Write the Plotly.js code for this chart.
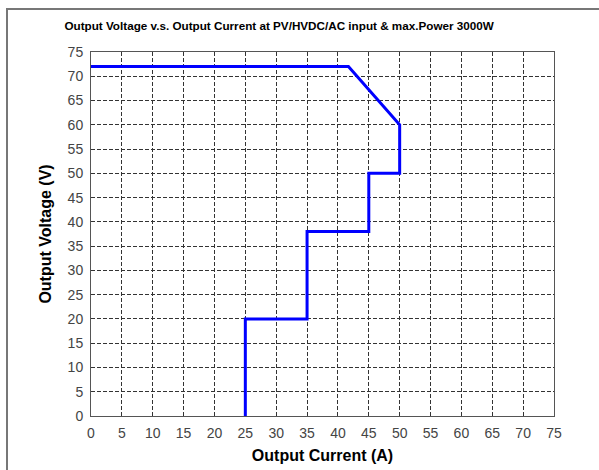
<!DOCTYPE html>
<html><head><meta charset="utf-8">
<script src="https://cdn.plot.ly/plotly-3.0.1.min.js"></script>
<style>
html,body{margin:0;padding:0;background:#fff;}
#wrap{position:relative;width:599px;height:470px;overflow:hidden;}
#chart{position:absolute;left:0;top:0;width:599px;height:470px;}
#frame{position:absolute;left:6px;top:8px;width:600px;height:470px;border-left:2px solid #777;border-top:2px solid #777;pointer-events:none;}
</style></head>
<body><div id="wrap"><div id="chart"></div><div id="frame"></div></div>
<script>
const currentA = [0, 41.7, 50, 50, 45, 45, 35, 35, 25, 25];
const voltageV = [72, 72, 60, 50, 50, 38, 38, 20, 20, 0];
const tickVals = [0,5,10,15,20,25,30,35,40,45,50,55,60,65,70,75];
const tickFont = {family:'Arial, Liberation Sans, sans-serif', size:14, color:'#444'};
const ax = {
  range:[0,75], tickvals:tickVals, ticktext:tickVals.map(String),
  showgrid:true, gridcolor:'#333', griddash:'4px,2px', gridwidth:1,
  showline:true, linecolor:'#555', linewidth:1, mirror:true,
  zeroline:false, ticks:'', tickfont:tickFont, fixedrange:true,
  ticklabelstandoff:4
};
Plotly.newPlot('chart', [{
  x: currentA, y: voltageV, type:'scatter', mode:'lines',
  line:{color:'#0000ff', width:3}, hoverinfo:'skip'
}], {
  width:599, height:470,
  margin:{l:91, r:45, t:52, b:54},
  paper_bgcolor:'#fff', plot_bgcolor:'#fff', showlegend:false,
  title:{text:'Output Voltage v.s. Output Current at PV/HVDC/AC input & max.Power 3000W',
    font:{family:'Arial, Liberation Sans, sans-serif', size:11.7, color:'#000', weight:'bold'},
    x:0.466, xanchor:'center', y:0.945, yanchor:'middle', yref:'container'},
  xaxis: Object.assign({}, ax, {title:{text:'Output Current (A)', standoff:10,
    font:{family:'Arial, Liberation Sans, sans-serif', size:16, color:'#000', weight:'bold'}}}),
  yaxis: Object.assign({}, ax, {title:{text:'Output Voltage (V)', standoff:12,
    font:{family:'Arial, Liberation Sans, sans-serif', size:16, color:'#000', weight:'bold'}}})
}, {staticPlot:true});
</script></body></html>
